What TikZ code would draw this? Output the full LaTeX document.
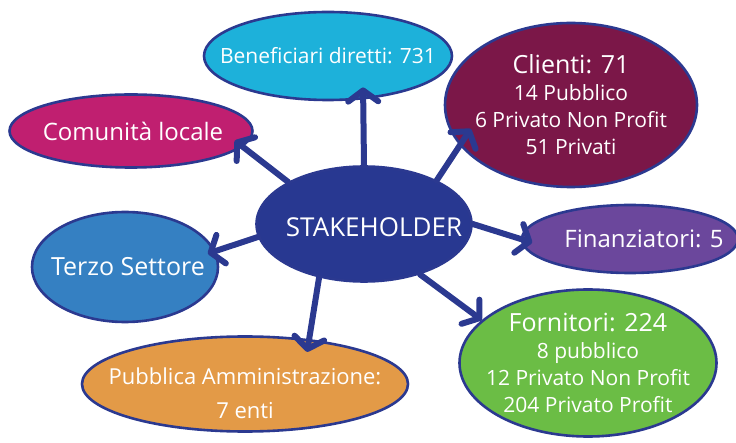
\documentclass[tikz,border=0pt]{standalone}
\usepackage{fontspec}
\setmainfont{Open Sans}
\usepackage{tikz}
\usetikzlibrary{positioning, arrows.meta, shapes.geometric}

\definecolor{edge}{HTML}{2B3990}
\definecolor{stkcol}{HTML}{283891}
\definecolor{bencol}{HTML}{1DB1DA}
\definecolor{clicol}{HTML}{7B1748}
\definecolor{comcol}{HTML}{C01F70}
\definecolor{tercol}{HTML}{3580C2}
\definecolor{fincol}{HTML}{6B479C}
\definecolor{forcol}{HTML}{6BBD45}
\definecolor{pubcol}{HTML}{E39A47}

\newcommand{\fs}[1]{\fontsize{#1}{27}\selectfont}

\tikzset{
	bubble/.style={ellipse, draw=edge, line width=2.6pt, inner sep=0pt},
	txt/.style={text=white, align=center, inner sep=0pt, font=\fs{21}},
	link/.style={draw=edge, line width=6pt, line cap=round,
		-{Straight Barb[length=11pt,width=30pt,round]}}
}

\begin{document}
\begin{tikzpicture}[x=1pt,y=-1pt]
	\useasboundingbox (0,0) rectangle (736,443);

	% bubbles
	\node[bubble, fill=stkcol, minimum width=215pt, minimum height=115pt] (stk) at (364,224) {};
	\node[bubble, fill=bencol, minimum width=248pt, minimum height=88pt] (ben) at (328,56) {};
	\node[bubble, fill=clicol, minimum width=252pt, minimum height=164pt] (cli) at (571,105) {};
	\node[bubble, fill=comcol, minimum width=243pt, minimum height=73pt] (com) at (131,131) {};
	\node[bubble, fill=tercol, minimum width=186pt, minimum height=110pt] (ter) at (125,267) {};
	\node[bubble, fill=fincol, minimum width=216pt, minimum height=68pt] (fin) at (630,239) {};
	\node[bubble, fill=forcol, minimum width=257pt, minimum height=147pt] (for) at (588,363) {};
	\node[bubble, fill=pubcol, minimum width=326pt, minimum height=95pt] (pub) at (245,384) {};

	% texts
	\node[txt, font=\fs{26}] (stk-t) at ([xshift=10pt,yshift=-3pt]stk.center) {STAKEHOLDER};
	\node[txt] (ben-t) at (ben) {Beneficiari diretti: 731};
	\node[txt] (cli-t) at (cli) {{\fs{25}Clienti: 71}\\14 Pubblico\\6 Privato Non Profit\\51 Privati};
	\node[txt, font=\fs{24}] (com-t) at ([xshift=2pt]com.center) {Comunità locale};
	\node[txt, font=\fs{25}] (ter-t) at ([xshift=3pt]ter.center) {Terzo Settore};
	\node[txt, font=\fs{24}] (fin-t) at ([xshift=14pt]fin.center) {Finanziatori: 5};
	\node[txt] (for-t) at (for) {{\fs{25}Fornitori: 224}\\8 pubblico\\12 Privato Non Profit\\204 Privato Profit};
	\node[txt, font=\fontsize{22}{34}\selectfont] (pub-t) at ([yshift=-9pt]pub.center) {Pubblica Amministrazione:\\7 enti};

	% arrows
	\draw[link, shorten >=-12pt] (stk.north) -- (ben.-51);
	\draw[link, shorten >=-20pt] (stk.31) -- (cli.200);
	\draw[link, shorten >=-10pt] (stk.151) -- (com.-8);
	\draw[link, shorten >=-8pt] (stk.187) -- (ter.10);
	\draw[link, shorten >=-13pt] (stk.230) -- (pub.35);
	\draw[link] (stk.-42) -- (for.158.7);
	\draw[link, shorten >=-12pt] (stk.east) -- (fin.west);
\end{tikzpicture}
\end{document}
